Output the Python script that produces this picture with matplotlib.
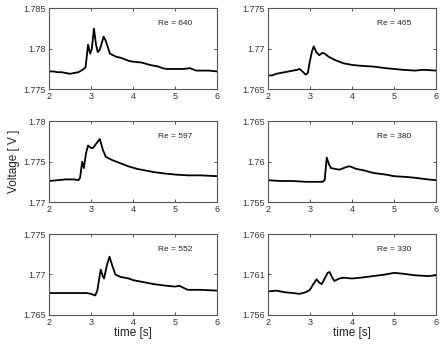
import matplotlib
matplotlib.use('Agg')
import matplotlib.pyplot as plt

plt.rcParams['font.family'] = ['Liberation Sans', 'DejaVu Sans']

# Re = 640
t_640 = [2.0, 2.1, 2.2, 2.3, 2.4, 2.5, 2.6, 2.7, 2.8, 2.87, 2.93, 2.98, 3.02, 3.07, 3.12,
         3.16, 3.21, 3.3, 3.35, 3.45, 3.6, 3.7, 3.8, 3.9, 4.0, 4.2, 4.4, 4.6, 4.7, 4.8,
         5.0, 5.2, 5.35, 5.45, 5.5, 5.6, 5.8, 6.0]
v_640 = [1.7772, 1.7772, 1.7771, 1.7771, 1.7770, 1.7769, 1.7770, 1.7771, 1.7774, 1.7777,
         1.7805, 1.7794, 1.7800, 1.7825, 1.7805, 1.7796, 1.7799, 1.7815, 1.7810, 1.7794,
         1.7790, 1.7789, 1.7787, 1.7785, 1.7784, 1.7783, 1.7780, 1.7778, 1.7776, 1.7775,
         1.7775, 1.7775, 1.7776, 1.7774, 1.7773, 1.7773, 1.7773, 1.7772]

# Re = 465
t_465 = [2.0, 2.1, 2.2, 2.3, 2.4, 2.5, 2.6, 2.7, 2.75, 2.8, 2.9, 2.95, 3.0, 3.05, 3.09,
         3.15, 3.22, 3.3, 3.35, 3.45, 3.6, 3.8, 4.0, 4.2, 4.5, 4.8, 5.0, 5.2, 5.5, 5.7, 6.0]
v_465 = [1.7667, 1.7667, 1.7669, 1.7670, 1.7671, 1.7672, 1.7673, 1.7674, 1.7675, 1.7673,
         1.7668, 1.7670, 1.7685, 1.7697, 1.7703, 1.7696, 1.7692, 1.7695, 1.7694, 1.7690,
         1.7686, 1.7682, 1.7680, 1.7679, 1.7678, 1.7676, 1.7675, 1.7674, 1.7673, 1.7674,
         1.7673]

# Re = 597
t_597 = [2.0, 2.2, 2.4, 2.6, 2.7, 2.74, 2.79, 2.83, 2.88, 2.93, 3.0, 3.05, 3.12, 3.21,
         3.28, 3.35, 3.5, 3.7, 3.9, 4.1, 4.3, 4.5, 4.8, 5.0, 5.3, 5.6, 6.0]
v_597 = [1.7726, 1.7727, 1.7728, 1.7728, 1.7727, 1.7730, 1.7750, 1.7742, 1.7760, 1.7770,
         1.7767, 1.7767, 1.7772, 1.7778, 1.7765, 1.7756, 1.7752, 1.7748, 1.7744, 1.7741,
         1.7739, 1.7737, 1.7735, 1.7734, 1.7733, 1.7733, 1.7732]

# Re = 380
t_380 = [2.0, 2.3, 2.6, 2.9, 3.1, 3.3, 3.35, 3.4, 3.45, 3.5, 3.6, 3.7, 3.8, 3.9, 3.96,
         4.1, 4.3, 4.5, 4.8, 5.0, 5.3, 5.5, 5.8, 6.0]
v_380 = [1.7577, 1.7576, 1.7576, 1.7575, 1.7575, 1.7575, 1.7577, 1.7605, 1.7597, 1.7592,
         1.7591, 1.7590, 1.7592, 1.7594, 1.7594, 1.7591, 1.7589, 1.7586, 1.7584, 1.7582,
         1.7581, 1.7580, 1.7578, 1.7577]

# Re = 552
t_552 = [2.0, 2.3, 2.6, 2.9, 3.0, 3.1, 3.15, 3.23, 3.28, 3.31, 3.38, 3.44, 3.5, 3.58,
         3.7, 3.9, 4.0, 4.3, 4.5, 4.8, 5.0, 5.1, 5.3, 5.6, 6.0]
v_552 = [1.7677, 1.7677, 1.7677, 1.7677, 1.7676, 1.7674, 1.7680, 1.7706, 1.7698, 1.7695,
         1.7712, 1.7722, 1.7712, 1.7700, 1.7697, 1.7695, 1.7693, 1.7690, 1.7688, 1.7686,
         1.7685, 1.7686, 1.7681, 1.7681, 1.7680]

# Re = 330
t_330 = [2.0, 2.2, 2.4, 2.6, 2.75, 2.9, 3.0, 3.08, 3.16, 3.22, 3.28, 3.35, 3.42, 3.47,
         3.52, 3.58, 3.7, 3.8, 4.0, 4.2, 4.5, 4.8, 5.0, 5.2, 5.5, 5.8, 6.0]
v_330 = [1.7589, 1.7590, 1.7588, 1.7587, 1.7586, 1.7588, 1.7591, 1.7598, 1.7604, 1.7600,
         1.7598, 1.7605, 1.7612, 1.7613, 1.7607, 1.7602, 1.7605, 1.7606, 1.7605, 1.7606,
         1.7608, 1.7610, 1.7612, 1.7611, 1.7609, 1.7608, 1.7609]

panels = [
    ('Re = 640', t_640, v_640, [1.775, 1.78, 1.785], ['1.775', '1.78', '1.785']),
    ('Re = 465', t_465, v_465, [1.765, 1.77, 1.775], ['1.765', '1.77', '1.775']),
    ('Re = 597', t_597, v_597, [1.77, 1.775, 1.78], ['1.77', '1.775', '1.78']),
    ('Re = 380', t_380, v_380, [1.755, 1.76, 1.765], ['1.755', '1.76', '1.765']),
    ('Re = 552', t_552, v_552, [1.765, 1.77, 1.775], ['1.765', '1.77', '1.775']),
    ('Re = 330', t_330, v_330, [1.756, 1.761, 1.766], ['1.756', '1.761', '1.766']),
]
x_ticks = [2, 3, 4, 5, 6]

fig = plt.figure(figsize=(4.45, 3.51), dpi=100)
lefts = [0.110, 0.602]
bottoms = [0.746, 0.4245, 0.103]
w, h = 0.378, 0.230

for i, (label, t, v, yt, ytl) in enumerate(panels):
    row, col = divmod(i, 2)
    ax = fig.add_axes([lefts[col], bottoms[row], w, h])
    ax.plot(t, v, color='black', lw=1.3)
    ax.set_xlim(2, 6)
    ax.set_ylim(yt[0], yt[-1])
    ax.set_xticks(x_ticks)
    ax.set_yticks(yt)
    ax.set_yticklabels(ytl)
    ax.tick_params(direction='in', length=2.5, width=0.6, labelsize=6.5,
                   top=True, right=True, pad=2, colors='#333333')
    for s in ax.spines.values():
        s.set_color('#555555')
        s.set_linewidth(0.8)
    ax.text(0.75, 0.81, label, transform=ax.transAxes, ha='center', va='center',
            fontsize=6, color='#222222')
    if row == 2:
        ax.set_xlabel('time [s]', fontsize=8.5, labelpad=0, color='#222222')
    if row == 1 and col == 0:
        ax.set_ylabel('Voltage [ V ]', fontsize=8.5, labelpad=3, color='#222222')

fig.savefig('out.png', dpi=100)
